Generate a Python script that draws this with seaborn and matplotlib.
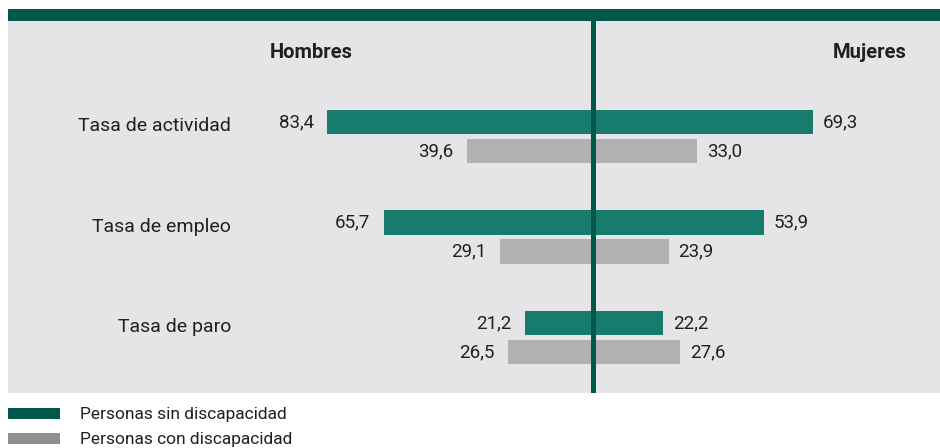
import matplotlib
matplotlib.use('Agg')
import matplotlib.pyplot as plt
import seaborn as sns
import pandas as pd
from matplotlib.patches import Rectangle
import matplotlib.transforms as mtransforms

# ---- data ----
categories = ['Tasa de actividad', 'Tasa de empleo', 'Tasa de paro']
series = ['Personas sin discapacidad', 'Personas con discapacidad']
hombres_sin = [83.4, 65.7, 21.2]
hombres_con = [39.6, 29.1, 26.5]
mujeres_sin = [69.3, 53.9, 22.2]
mujeres_con = [33.0, 23.9, 27.6]
side_titles = ['Hombres', 'Mujeres']

# ---- style ----
FONT = ['Roboto', 'DejaVu Sans']
plt.rcParams['font.family'] = FONT
TXT = '#231f20'
GREEN = '#177b6e'
GRAY = '#b1b1b4'
DARK = '#00584a'
LEG_GRAY = '#8e8f93'
PANEL = '#e5e5e7'

W, H = 940, 448


def long_df(sin, con, sign):
    rows = []
    for c, a, b in zip(categories, sin, con):
        rows.append(dict(cat=c, serie=series[0], val=sign * a))
        rows.append(dict(cat=c, serie=series[1], val=sign * b))
    return pd.DataFrame(rows)


df_h = long_df(hombres_sin, hombres_con, -1)
df_m = long_df(mujeres_sin, mujeres_con, 1)

fig = plt.figure(figsize=(W / 100, H / 100), dpi=100)
ax = fig.add_axes([8 / W, 1 - 393 / H, 932 / W, (393 - 21) / H])
ax.set_facecolor(PANEL)

pal = {series[0]: GREEN, series[1]: GRAY}
for d in (df_h, df_m):
    sns.barplot(data=d, y='cat', x='val', hue='serie', order=categories,
                hue_order=series, palette=pal, orient='h', width=0.577,
                gap=0.17, dodge=True, legend=False, errorbar=None,
                saturation=1, ax=ax, zorder=2)

# scale: ~3.18 px per unit, zero at x=592.5 px
ppu = 3.18
left_units = (592.5 - 8) / ppu
ax.set_xlim(-left_units, -left_units + 932 / ppu)
ypu = 100.5
ax.set_ylim(2 + (393 - 337.5) / ypu, -(136.5 - 21) / ypu)

for cont in ax.containers:
    vals = cont.datavalues
    labs = [f"{abs(v):.1f}".replace('.', ',') for v in vals]
    pad = 9.7 if vals[0] < 0 else 7.2
    ax.bar_label(cont, labels=labs, padding=pad, fontsize=13.5, color=TXT)

ax.axvline(0, color=DARK, lw=3.6, zorder=6)

for s in ax.spines.values():
    s.set_visible(False)
ax.set_xticks([])
ax.set_yticks([])
ax.set_xlabel('')
ax.set_ylabel('')

trans = mtransforms.blended_transform_factory(ax.transAxes, ax.transData)
for i, c in enumerate(categories):
    ax.text((231 - 8) / 932, i - 0.1, c, transform=trans, ha='right',
            va='center', fontsize=14, color=TXT)

# headers
fig.text(311 / W, 1 - 52 / H, side_titles[0], ha='center', va='center',
         fontsize=14.5, fontweight='bold', color=TXT)
fig.text(907 / W, 1 - 52 / H, side_titles[1], ha='right', va='center',
         fontsize=14.5, fontweight='bold', color=TXT)

# top band
fig.patches.append(Rectangle((8 / W, 1 - 21 / H), 932 / W, 12 / H,
                             transform=fig.transFigure, color=DARK, lw=0))

# legend
for k, (lab, col) in enumerate(zip(series, [DARK, LEG_GRAY])):
    y0 = 408 + 25 * k
    fig.patches.append(Rectangle((8 / W, 1 - (y0 + 11) / H), 52 / W, 11 / H,
                                 transform=fig.transFigure, color=col, lw=0))
    fig.text(80 / W, 1 - (y0 + 6.5) / H, lab, ha='left', va='center',
             fontsize=12.5, color=TXT)

fig.savefig('out.png', dpi=100)
